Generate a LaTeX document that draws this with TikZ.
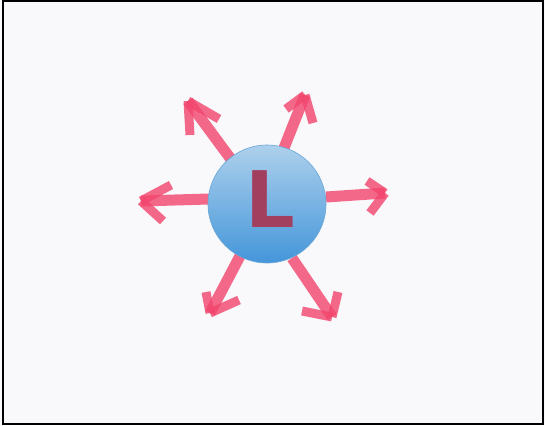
\documentclass[tikz,border=0pt]{standalone}
\usepackage{fontspec}
\newfontfamily\lfont{DejaVu Sans}
\definecolor{bg}{HTML}{F9F9FB}
\definecolor{blueA}{HTML}{ADD0EC}
\definecolor{blueB}{HTML}{4496DA}
\definecolor{blueE}{HTML}{6AA6D6}
\definecolor{mark}{HTML}{F2476F}
\definecolor{lcol}{HTML}{A33F5E}
\tikzset{
  shaft/.style={draw=mark, line width=11pt, opacity=0.82, line cap=butt},
  barb/.style={draw=mark, line width=9pt, opacity=0.82, line cap=butt},
  ball/.style={circle, minimum size=118pt, inner sep=0pt, top color=blueA, bottom color=blueB, draw=blueE, line width=0.6pt},
  letter/.style={text=lcol, font=\lfont\bfseries\fontsize{78}{78}\selectfont, inner sep=0pt},
}
\begin{document}
\begin{tikzpicture}[x=1pt,y=-1pt]
\useasboundingbox (0,0) rectangle (545,425);
\fill[bg] (0,0) rectangle (545,425);
\draw[black, line width=2pt] (2.5,1.5) rectangle (542.5,423.5);
% tails and tips
\coordinate (t1) at (233,162); \coordinate (p1) at (188,101);
\coordinate (t2) at (284,148); \coordinate (p2) at (305,95);
\coordinate (t3) at (326,197); \coordinate (p3) at (385,193);
\coordinate (t4) at (209,199); \coordinate (p4) at (141,201);
\coordinate (t5) at (240,256); \coordinate (p5) at (210,313);
\coordinate (t6) at (292,258); \coordinate (p6) at (332,317);
% barb ends
\coordinate (b1a) at (190,135); \coordinate (b1b) at (219,119);
\coordinate (b2a) at (286,109); \coordinate (b2b) at (313,123);
\coordinate (b3a) at (367,181); \coordinate (b3b) at (370,213);
\coordinate (b4a) at (171,185); \coordinate (b4b) at (163,221);
\coordinate (b5a) at (206,292); \coordinate (b5b) at (239,300);
\coordinate (b6a) at (302,311); \coordinate (b6b) at (338,292);
\foreach \i in {1,...,6}{
  \draw[shaft] (t\i) -- (p\i);
  \draw[barb] (p\i) -- (b\i a);
  \draw[barb] (p\i) -- (b\i b);
}
\node[ball] (c) at (267,204) {};
\node[letter] (l) at (270,199) {L};
\end{tikzpicture}
\end{document}
